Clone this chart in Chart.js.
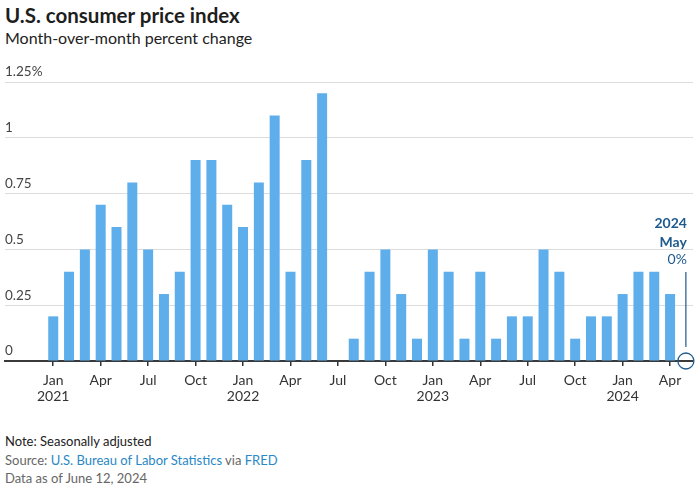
<!DOCTYPE html>
<html>
<head>
<meta charset="utf-8">
<script src="https://cdn.jsdelivr.net/npm/chart.js@4.4.1/dist/chart.umd.min.js"></script>
<style>
  html,body{margin:0;padding:0;background:#fff;}
  body{width:700px;height:488px;position:relative;overflow:hidden;font-family:Lato,"Open Sans",sans-serif;}
  #title{position:absolute;left:5px;top:3px;font-size:20.5px;font-weight:700;color:#1e1e1e;white-space:nowrap;}
  #sub{position:absolute;left:5px;top:28px;font-size:16px;color:#222;white-space:nowrap;}
  #wrap{position:absolute;left:0;top:55px;width:700px;height:362px;}
  #foot{position:absolute;left:5px;top:432px;font-size:13px;line-height:18.5px;color:#666;white-space:nowrap;}
  #foot .note{color:#222;}
  #foot .link{color:#2a88c6;}
</style>
</head>
<body>
<div id="title">U.S. consumer price index</div>
<div id="sub">Month-over-month percent change</div>
<div id="wrap"><canvas id="c"></canvas></div>
<div id="foot">
  <div class="note">Note: Seasonally adjusted</div>
  <div>Source: <span class="link">U.S. Bureau of Labor Statistics</span> via <span class="link">FRED</span></div>
  <div>Data as of June 12, 2024</div>
</div>
<script>
// Months Jan 2021 .. May 2024
const months = [
  "Jan 2021","Feb 2021","Mar 2021","Apr 2021","May 2021","Jun 2021","Jul 2021","Aug 2021","Sep 2021","Oct 2021","Nov 2021","Dec 2021",
  "Jan 2022","Feb 2022","Mar 2022","Apr 2022","May 2022","Jun 2022","Jul 2022","Aug 2022","Sep 2022","Oct 2022","Nov 2022","Dec 2022",
  "Jan 2023","Feb 2023","Mar 2023","Apr 2023","May 2023","Jun 2023","Jul 2023","Aug 2023","Sep 2023","Oct 2023","Nov 2023","Dec 2023",
  "Jan 2024","Feb 2024","Mar 2024","Apr 2024","May 2024"
];
// Month-over-month percent change
const cpiChange = [
  0.2,0.4,0.5,0.7,0.6,0.8,0.5,0.3,0.4,0.9,0.9,0.7,
  0.6,0.8,1.1,0.4,0.9,1.2,0.0,0.1,0.4,0.5,0.3,0.1,
  0.5,0.4,0.1,0.4,0.1,0.2,0.2,0.5,0.4,0.1,0.2,0.2,
  0.3,0.4,0.4,0.3,0.0
];
// X tick labels (every third month, starting Jan 2021)
const xTickLabels = [
  ["Jan","2021"],"Apr","Jul","Oct",
  ["Jan","2022"],"Apr","Jul","Oct",
  ["Jan","2023"],"Apr","Jul","Oct",
  ["Jan","2024"],"Apr"
];
const xTickMonths = ["Jan 2021","Apr 2021","Jul 2021","Oct 2021","Jan 2022","Apr 2022","Jul 2022","Oct 2022","Jan 2023","Apr 2023","Jul 2023","Oct 2023","Jan 2024","Apr 2024"];
const yTickValues = [0,0.25,0.5,0.75,1,1.25];
const yTickLabels = ["0","0.25","0.5","0.75","1","1.25%"];
const latestLabel = ["2024","May","0%"];

const ANNO = '#1d5a8e';
const FONT = 'Lato, "Open Sans", sans-serif';
const lastIdx = months.length - 1;

const annotationPlugin = {
  id:'latestAnno',
  afterDatasetsDraw(chart){
    const {ctx, scales:{x,y}} = chart;
    const px = x.getPixelForValue(lastIdx);
    const py = y.getPixelForValue(cpiChange[lastIdx]);
    ctx.save();
    ctx.strokeStyle = ANNO;
    ctx.lineWidth = 1.2;
    ctx.beginPath();
    ctx.moveTo(px, py - 14);
    ctx.lineTo(px, py - 89);
    ctx.stroke();
    ctx.fillStyle = ANNO;
    ctx.textAlign = 'right';
    ctx.textBaseline = 'middle';
    ctx.font = 'bold 14px ' + FONT;
    ctx.fillText(latestLabel[0], px + 1, py - 138);
    ctx.fillText(latestLabel[1], px + 1, py - 119);
    ctx.font = '14px ' + FONT;
    ctx.fillText(latestLabel[2], px + 1, py - 102);
    ctx.restore();
  }
};

new Chart(document.getElementById('c'), {
  type:'bar',
  data:{
    datasets:[
      {
        type:'bar',
        data: cpiChange.map((v,i)=>({x:i, y:v})),
        backgroundColor:'#5eaeeb',
        borderWidth:0,
        barPercentage:0.79,
        categoryPercentage:0.8,
        order:2
      },
      {
        type:'scatter',
        data:[{x:lastIdx, y:cpiChange[lastIdx]}],
        pointRadius:8,
        pointBorderWidth:1.3,
        pointBorderColor:ANNO,
        pointBackgroundColor:'rgba(255,255,255,0)',
        clip:false,
        order:1
      }
    ]
  },
  options:{
    responsive:true,
    maintainAspectRatio:false,
    animation:false,
    layout:{autoPadding:false, padding:{left:5,right:7,top:27,bottom:6.8}},
    plugins:{legend:{display:false}, tooltip:{enabled:false}},
    scales:{
      x:{
        type:'linear',
        offset:false,
        min:-3.05,
        max:40.45,
        afterBuildTicks(axis){ axis.ticks = xTickMonths.map(m=>({value: months.indexOf(m)})); },
        afterFit(axis){ axis.paddingLeft = 0; axis.paddingRight = 0; },
        grid:{offset:false, drawOnChartArea:false, drawTicks:true, tickLength:5, color:'#333', lineWidth:1.5},
        border:{display:true, color:'#3a3a3a', width:2},
        ticks:{
          color:'#333', font:{size:14, family:FONT, lineHeight:1.15},
          padding:6, maxRotation:0, autoSkip:false,
          callback:(v,i)=>xTickLabels[i]
        }
      },
      y:{
        min:0, max:1.25,
        afterBuildTicks(axis){ axis.ticks = yTickValues.map(v=>({value:v})); },
        afterFit(axis){ axis.width = 0; },
        grid:{color:'#dcdcdc', lineWidth:1, drawTicks:false},
        border:{display:false},
        ticks:{
          mirror:true, padding:0, labelOffset:-10,
          color:'#444', font:{size:13.5, family:FONT},
          callback:(v,i)=>yTickLabels[i]
        }
      }
    }
  },
  plugins:[annotationPlugin]
});
</script>
</body>
</html>
